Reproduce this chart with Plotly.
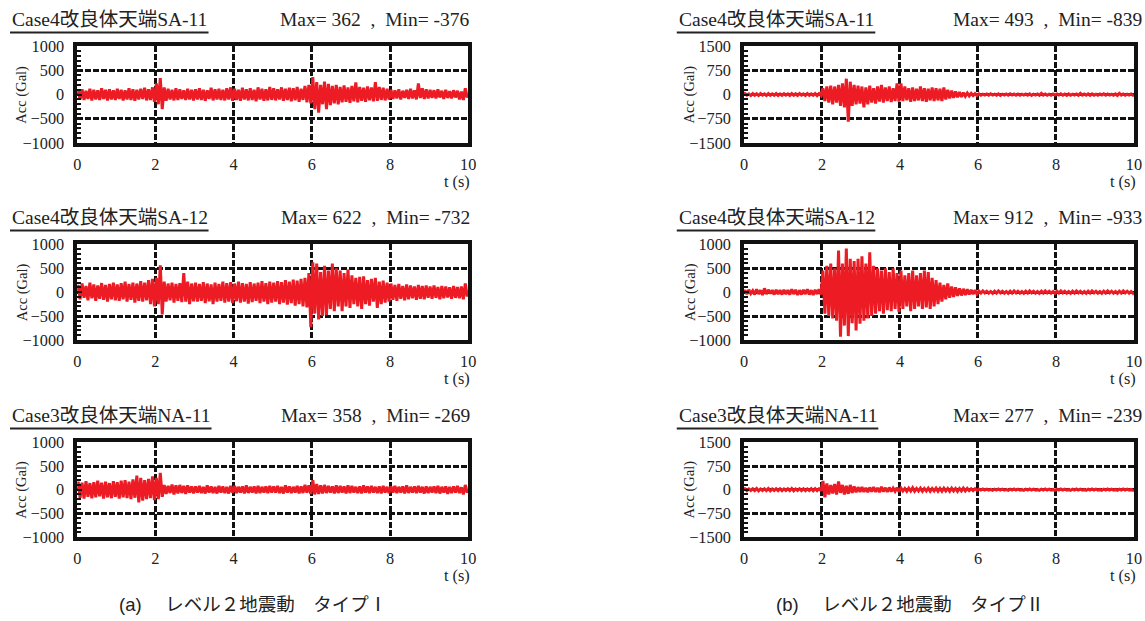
import plotly.graph_objects as go

# Measured mapping from figure pixels to the photographed picture:
#   picture_x = SX * fig_x + OX ,  picture_y = SY * fig_y + OY
# Positions below are given in picture pixels and converted back.
SX, OX = 0.987, 4.0
SY, OY = 0.9745, 7.5
W, H = 1156, 630
RED = '#ED1C24'

# ---------------- data (peak / trough envelope per 0.1 s) ----------------
time_end = 10.0

a1_peaks = [
    90, 110, 80, 120, 100, 90, 130, 100, 110, 90,
    120, 100, 90, 130, 110, 100, 120, 140, 110, 150,
    230, 340, 150, 120, 100, 130, 110, 90, 120, 100,
    110, 130, 100, 90, 140, 110, 120, 100, 130, 150,
    120, 100, 140, 110, 130, 100, 150, 120, 110, 160,
    130, 110, 150, 120, 140, 130, 160, 120, 180, 200,
    362, 260, 200, 270, 220, 180, 200, 160, 190, 150,
    180, 250, 160, 140, 170, 150, 260, 160, 140, 120,
    100, 90, 110, 80, 100, 120, 90, 230, 130, 110,
    100, 90, 110, 80, 100, 70, 90, 80, 60, 130]
a1_troughs = [
    -100, -110, -90, -120, -100, -110, -90, -120, -100, -110,
    -90, -120, -100, -110, -130, -100, -90, -120, -110, -150,
    -200, -300, -130, -100, -120, -110, -90, -110, -100, -120,
    -100, -110, -130, -90, -120, -100, -110, -120, -100, -130,
    -110, -130, -100, -120, -110, -140, -100, -130, -120, -110,
    -120, -100, -130, -110, -140, -120, -150, -110, -160, -180,
    -300, -376, -200, -300, -220, -180, -200, -160, -150, -170,
    -140, -160, -130, -150, -120, -140, -130, -110, -120, -100,
    -90, -80, -100, -70, -90, -80, -100, -70, -90, -80,
    -70, -80, -60, -90, -70, -80, -60, -100, -110, -60]

a2_peaks = [
    150, 180, 130, 200, 160, 140, 190, 150, 170, 200,
    160, 190, 220, 170, 200, 180, 230, 200, 250, 280,
    300, 560, 220, 180, 200, 170, 190, 400, 220, 180,
    200, 170, 210, 180, 160, 200, 170, 220, 190, 210,
    180, 220, 190, 170, 210, 180, 200, 230, 190, 220,
    200, 230, 210, 250, 220, 260, 240, 280, 300, 400,
    622, 600, 420, 550, 450, 600, 500, 450, 400, 470,
    350, 300, 320, 330, 250, 280, 300, 220, 240, 200,
    180, 150, 170, 130, 160, 140, 120, 150, 130, 140,
    120, 140, 110, 130, 120, 100, 130, 110, 120, 180]
a2_troughs = [
    -150, -120, -170, -130, -180, -140, -160, -200, -150, -170,
    -180, -150, -200, -160, -220, -180, -200, -170, -250, -300,
    -250, -467, -200, -170, -220, -180, -210, -200, -250, -190,
    -200, -180, -230, -190, -250, -200, -180, -220, -200, -230,
    -190, -220, -200, -240, -210, -180, -230, -200, -250, -220,
    -200, -250, -220, -260, -230, -280, -250, -300, -320, -732,
    -450, -570, -500, -480, -350, -400, -300, -400, -300, -330,
    -250, -300, -350, -250, -280, -200, -330, -250, -220, -200,
    -160, -180, -140, -170, -150, -130, -160, -140, -150, -120,
    -140, -120, -150, -130, -110, -140, -120, -130, -150, -90]

a3_peaks = [
    170, 150, 180, 140, 160, 190, 150, 170, 140, 180,
    160, 190, 200, 170, 220, 300, 250, 200, 230, 280,
    250, 358, 100, 80, 110, 90, 100, 80, 90, 70,
    70, 80, 60, 90, 70, 60, 80, 70, 60, 80,
    80, 60, 70, 90, 60, 70, 80, 60, 70, 80,
    70, 80, 60, 90, 70, 60, 80, 70, 100, 90,
    200, 120, 90, 100, 80, 70, 90, 80, 70, 90,
    80, 60, 70, 90, 70, 80, 60, 70, 80, 60,
    70, 80, 60, 70, 90, 60, 70, 80, 60, 70,
    60, 70, 80, 60, 70, 60, 70, 80, 50, 100]
a3_troughs = [
    -170, -190, -150, -180, -160, -140, -190, -160, -180, -150,
    -190, -160, -180, -200, -170, -269, -230, -200, -180, -220,
    -200, -150, -90, -70, -100, -80, -70, -90, -60, -80,
    -60, -70, -80, -60, -70, -80, -60, -70, -80, -60,
    -70, -60, -80, -70, -60, -80, -70, -60, -70, -60,
    -60, -70, -80, -60, -70, -60, -80, -70, -60, -90,
    -100, -90, -80, -70, -60, -80, -70, -60, -80, -70,
    -60, -70, -80, -60, -70, -60, -70, -80, -60, -70,
    -60, -70, -60, -80, -70, -60, -70, -60, -80, -70,
    -60, -70, -80, -60, -90, -70, -60, -70, -100, -60]

b1_peaks = [
    30, 20, 30, 25, 30, 20, 30, 25, 30, 20,
    30, 20, 30, 25, 30, 20, 30, 25, 30, 30,
    200, 250, 280, 250, 300, 350, 493, 400, 300, 280,
    250, 220, 280, 200, 250, 300, 220, 250, 200, 350,
    350, 250, 200, 220, 180, 250, 200, 180, 220, 200,
    180, 220, 150, 120, 100, 80, 60, 50, 40, 30,
    20, 15, 20, 25, 15, 20, 15, 20, 25, 20,
    20, 15, 20, 25, 15, 20, 40, 20, 15, 20,
    20, 25, 15, 20, 15, 20, 40, 20, 25, 20,
    15, 20, 25, 20, 15, 20, 40, 20, 15, 20]
b1_troughs = [
    -20, -30, -25, -30, -20, -30, -25, -20, -30, -25,
    -20, -30, -25, -30, -20, -30, -25, -20, -30, -25,
    -200, -250, -300, -250, -350, -400, -839, -350, -300, -280,
    -400, -300, -250, -280, -220, -250, -200, -230, -200, -220,
    -200, -180, -220, -200, -180, -200, -220, -180, -200, -180,
    -200, -150, -120, -100, -80, -70, -50, -40, -30, -30,
    -20, -15, -20, -15, -20, -25, -15, -20, -15, -20,
    -20, -15, -20, -25, -15, -20, -15, -20, -20, -15,
    -15, -20, -25, -20, -15, -20, -15, -20, -25, -20,
    -20, -15, -20, -15, -20, -25, -15, -20, -15, -20]

b2_peaks = [
    40, 50, 30, 60, 40, 80, 50, 40, 50, 40,
    50, 40, 60, 50, 40, 50, 60, 40, 50, 60,
    450, 550, 600, 500, 870, 600, 912, 700, 650, 700,
    750, 600, 833, 550, 500, 450, 500, 420, 500, 400,
    450, 350, 400, 450, 350, 400, 450, 420, 300, 250,
    200, 150, 180, 120, 100, 80, 70, 60, 50, 40,
    20, 25, 20, 15, 20, 25, 20, 15, 20, 25,
    20, 15, 20, 25, 20, 15, 20, 25, 20, 15,
    20, 25, 20, 15, 20, 25, 20, 15, 20, 25,
    20, 15, 20, 25, 20, 15, 20, 25, 20, 15]
b2_troughs = [
    -40, -30, -50, -40, -60, -40, -30, -50, -40, -50,
    -40, -50, -40, -60, -50, -40, -50, -60, -40, -50,
    -450, -500, -550, -600, -933, -700, -920, -650, -800, -660,
    -600, -550, -500, -450, -400, -450, -380, -400, -350, -420,
    -350, -300, -400, -350, -300, -350, -320, -350, -300, -250,
    -200, -150, -120, -100, -80, -70, -60, -50, -40, -40,
    -20, -15, -20, -25, -20, -15, -20, -25, -20, -15,
    -20, -25, -20, -15, -20, -25, -20, -15, -20, -25,
    -20, -15, -20, -25, -20, -15, -20, -25, -20, -15,
    -20, -25, -20, -15, -20, -25, -20, -15, -20, -25]

b3_peaks = [
    30, 25, 30, 35, 25, 30, 35, 25, 30, 30,
    25, 30, 35, 25, 30, 30, 25, 35, 30, 30,
    277, 200, 150, 180, 260, 150, 120, 150, 100, 80,
    80, 60, 70, 80, 60, 90, 60, 70, 50, 60,
    50, 40, 50, 60, 40, 50, 40, 50, 40, 50,
    40, 50, 40, 50, 40, 40, 50, 40, 30, 30,
    15, 20, 15, 10, 15, 20, 15, 10, 15, 20,
    15, 10, 15, 20, 15, 10, 15, 20, 15, 10,
    15, 20, 15, 10, 15, 20, 15, 10, 15, 20,
    15, 10, 15, 20, 15, 10, 15, 20, 15, 10]
b3_troughs = [
    -30, -25, -30, -35, -25, -30, -35, -25, -30, -30,
    -25, -30, -35, -25, -30, -30, -25, -35, -30, -30,
    -239, -150, -120, -150, -100, -150, -130, -100, -80, -70,
    -70, -80, -60, -70, -80, -60, -70, -60, -50, -60,
    -40, -50, -40, -50, -40, -50, -40, -50, -40, -50,
    -50, -40, -50, -40, -50, -40, -40, -30, -30, -20,
    -15, -10, -15, -20, -15, -10, -15, -20, -15, -10,
    -15, -20, -15, -10, -15, -20, -15, -10, -15, -20,
    -15, -10, -15, -20, -15, -10, -15, -20, -15, -10,
    -15, -20, -15, -10, -15, -20, -15, -10, -15, -20]

titles = ['Case4改良体天端SA-11', 'Case4改良体天端SA-12', 'Case3改良体天端NA-11',
          'Case4改良体天端SA-11', 'Case4改良体天端SA-12', 'Case3改良体天端NA-11']
max_vals = [362, 622, 358, 493, 912, 277]
min_vals = [-376, -732, -269, -839, -933, -239]
y_limits = [1000, 1000, 1000, 1500, 1000, 1500]
y_dticks = [500, 500, 500, 750, 500, 750]
y_minor = [100, 100, 100, 150, 100, 150]
x_ticks = [0, 2, 4, 6, 8, 10]
captions = ['(a)　 レベル２地震動　タイプⅠ', '(b)　 レベル２地震動　タイプⅡ']
y_label = 'Acc (Gal)'
x_label = 't (s)'

series = [(a1_peaks, a1_troughs), (a2_peaks, a2_troughs), (a3_peaks, a3_troughs),
          (b1_peaks, b1_troughs), (b2_peaks, b2_troughs), (b3_peaks, b3_troughs)]

# ---------------- layout geometry (picture pixels) ----------------
col_px = [(77, 467), (742, 1131)]
row_px = [(45, 142), (244, 340), (443, 538)]


def px(x):
    return ((x - OX) / SX) / W


def py(y):
    return 1 - ((y - OY) / SY) / H


SERIF = 'Liberation Serif, Times New Roman, Noto Sans CJK JP, serif'
INK = '#111111'

fig = go.Figure()
annotations = []
shapes = []

for k in range(6):
    col, row = k // 3, k % 3
    peaks, troughs = series[k]
    n = len(peaks)
    step = time_end / n
    xs, ys = [0.0], [0.0]
    for i in range(n):
        xs += [i * step + step * 0.25, i * step + step * 0.75]
        ys += [peaks[i], troughs[i]]
    xs.append(time_end)
    ys.append(0.0)
    idx = '' if k == 0 else str(k + 1)
    fig.add_trace(go.Scatter(x=xs, y=ys, mode='lines',
                             line=dict(color=RED, width=3),
                             xaxis='x' + idx, yaxis='y' + idx,
                             showlegend=False, hoverinfo='skip'))
    x0, x1 = col_px[col]
    y0, y1 = row_px[row]
    lim = y_limits[k]
    fig.layout['xaxis' + idx] = dict(
        domain=[px(x0), px(x1)], anchor='y' + idx, range=[0, time_end],
        tickvals=x_ticks, ticktext=[str(v) for v in x_ticks],
        showgrid=True, gridcolor=INK, gridwidth=2.5, griddash='6px,2px',
        zeroline=False, showline=True, linecolor=INK, linewidth=3.5, mirror=True,
        ticks='', ticklabelstandoff=4,
        tickfont=dict(family=SERIF, size=16.3, color='#222'))
    fig.layout['yaxis' + idx] = dict(
        domain=[py(y1), py(y0)], anchor='x' + idx, range=[-lim, lim],
        tickmode='linear', tick0=-lim, dtick=y_dticks[k],
        showgrid=True, gridcolor=INK, gridwidth=2.5, griddash='6px,2px',
        zeroline=False, showline=True, linecolor=INK, linewidth=3.5, mirror=True,
        ticks='inside', ticklen=5, tickwidth=2, tickcolor=INK,
        minor=dict(ticks='inside', ticklen=4, tickwidth=2, tickcolor=INK,
                   dtick=y_minor[k], tick0=-lim, showgrid=False),
        ticklabelstandoff=6,
        tickfont=dict(family=SERIF, size=16.3, color='#222'))

    # titles
    tx = 10 if col == 0 else 675
    mx = 471 if col == 0 else 1141
    ty = y0 - 27
    annotations.append(dict(text=titles[k], x=px(tx), y=py(ty), xref='paper', yref='paper',
                            xanchor='left', yanchor='middle', showarrow=False,
                            font=dict(family=SERIF, size=19.5, color='#222')))
    annotations.append(dict(text=f'Max= {max_vals[k]}  ,  Min= {min_vals[k]}',
                            x=px(mx), y=py(ty), xref='paper', yref='paper',
                            xanchor='right', yanchor='middle', showarrow=False,
                            font=dict(family=SERIF, size=19.5, color='#222')))
    shapes.append(dict(type='line', xref='paper', yref='paper',
                       x0=px(tx), x1=px(tx + (201 if row == 2 else 198)),
                       y0=py(ty + 13), y1=py(ty + 13),
                       line=dict(color='#222', width=2)))
    # axis labels
    lx = 22 if col == 0 else 688
    annotations.append(dict(text=y_label, x=px(lx), y=py((y0 + y1) / 2), xref='paper', yref='paper',
                            xanchor='center', yanchor='middle', textangle=-90, showarrow=False,
                            font=dict(family=SERIF, size=14.5, color='#222')))
    annotations.append(dict(text=x_label, x=px(x1 + 4), y=py(y1 + 39), xref='paper', yref='paper',
                            xanchor='right', yanchor='middle', showarrow=False,
                            font=dict(family=SERIF, size=16.3, color='#222')))

annotations.append(dict(text=captions[0], x=px(252), y=py(606), xref='paper', yref='paper',
                        xanchor='center', yanchor='middle', showarrow=False,
                        font=dict(family='Liberation Sans, Noto Sans CJK JP, sans-serif', size=18.5, color='#222')))
annotations.append(dict(text=captions[1], x=px(908), y=py(606), xref='paper', yref='paper',
                        xanchor='center', yanchor='middle', showarrow=False,
                        font=dict(family='Liberation Sans, Noto Sans CJK JP, sans-serif', size=18.5, color='#222')))

fig.update_layout(width=W, height=H, margin=dict(l=0, r=0, t=0, b=0),
                  paper_bgcolor='white', plot_bgcolor='white',
                  annotations=annotations, shapes=shapes)

fig.write_html('out.html')
